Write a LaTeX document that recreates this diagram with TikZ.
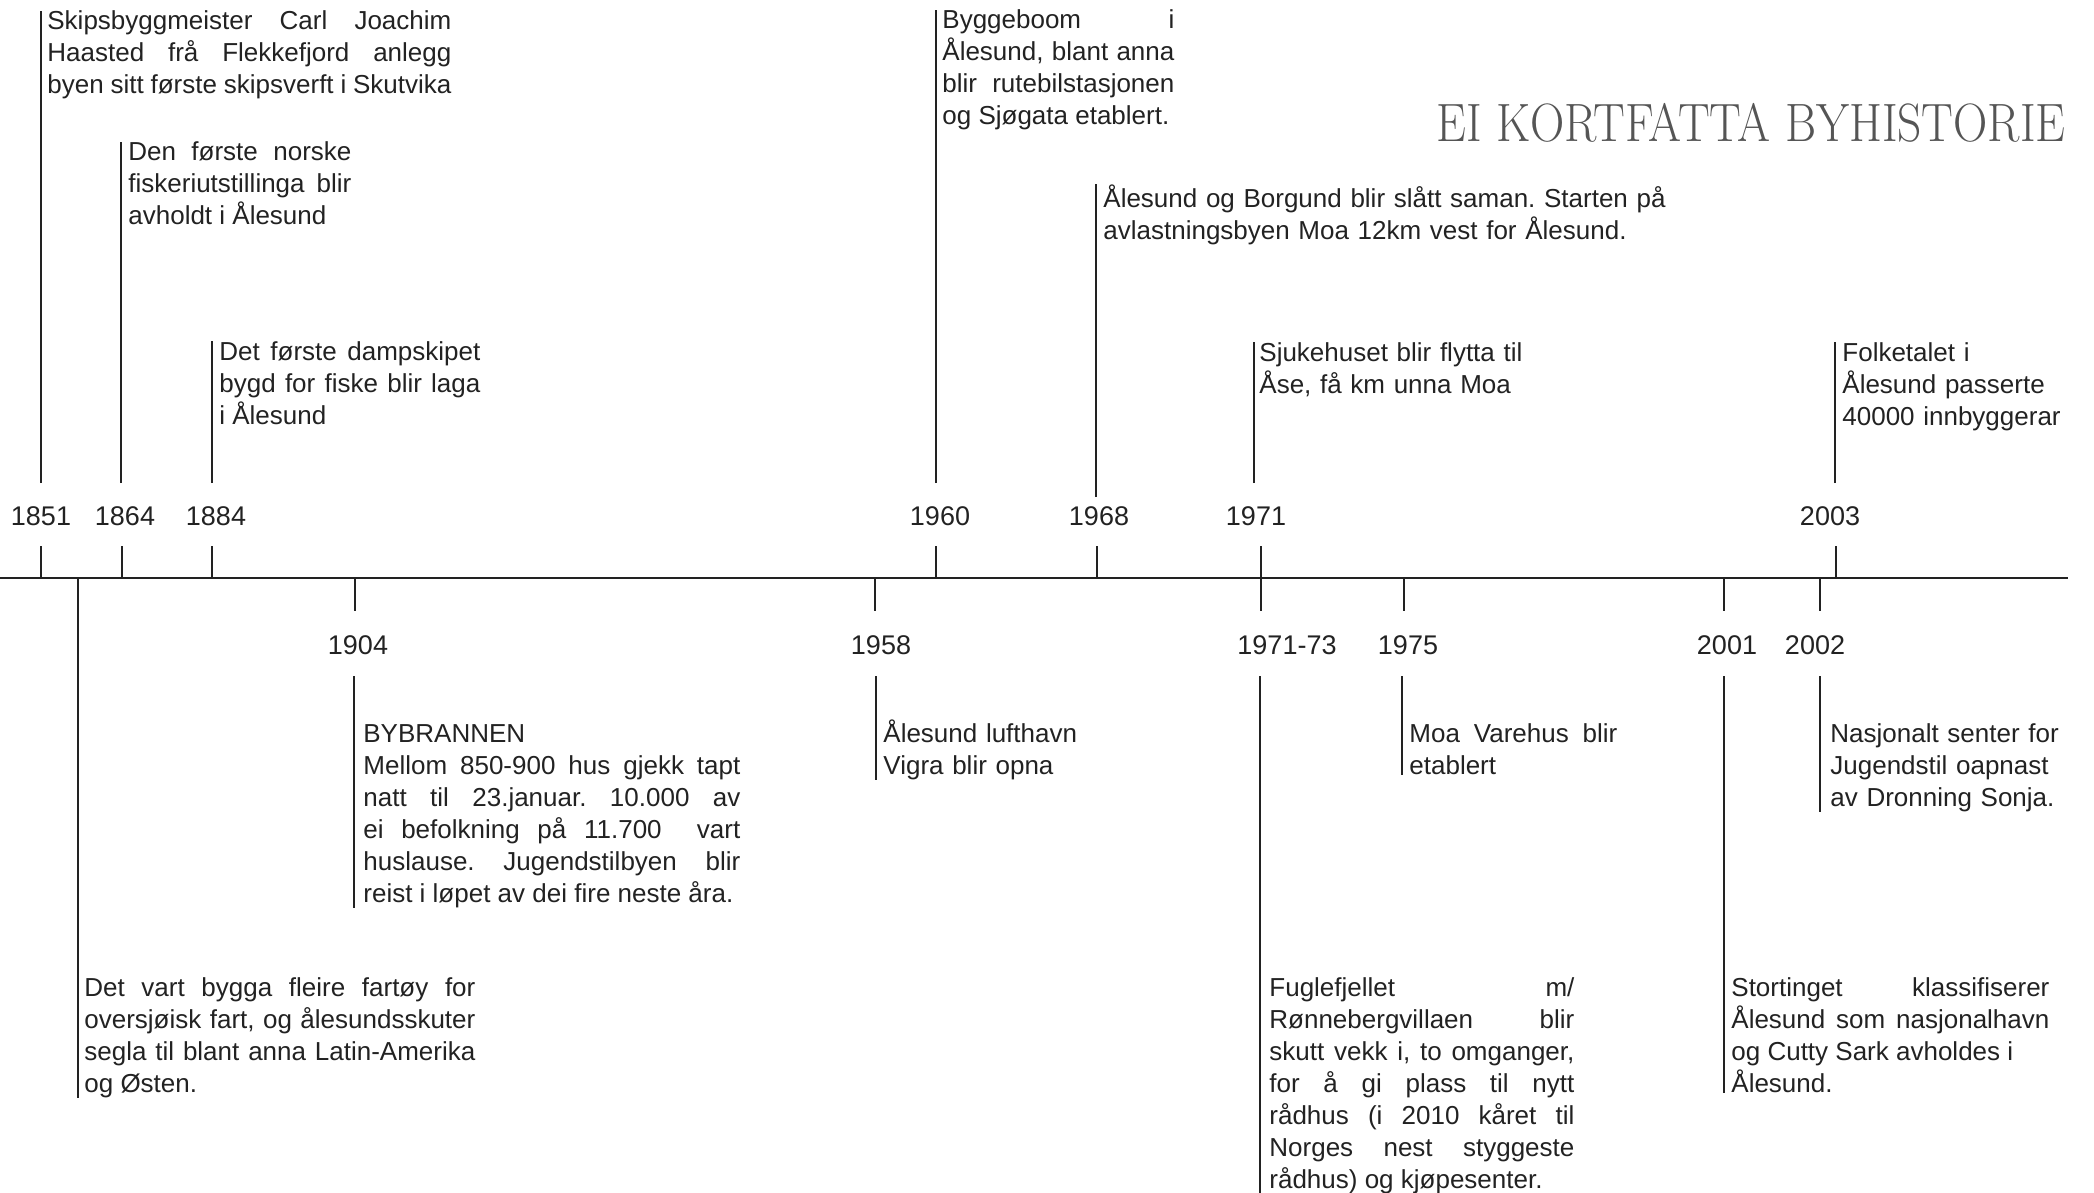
\documentclass[tikz,border=0pt]{standalone}
\usepackage{fontspec}
\setsansfont{Liberation Sans}
\usepackage{graphicx}

\definecolor{ink}{HTML}{222222}
\definecolor{titlegray}{HTML}{555555}

\begin{document}
\frenchspacing
\begin{tikzpicture}[x=0.5pt,y=-0.5pt,
    axis/.style={line width=1.35pt, ink},
    tick/.style={line width=1.15pt, ink},
    year/.style={inner sep=0pt, text=ink, font=\sffamily\fontsize{13.5pt}{16pt}\selectfont},
    jtext/.style={anchor=base west, inner sep=0pt, align=justify, text=ink, font=\sffamily\fontsize{13pt}{16pt}\selectfont},
    ltext/.style={jtext, align=left},
    title/.style={anchor=base east, inner sep=0pt, text=titlegray, font=\rmfamily\fontsize{27pt}{30pt}\selectfont}]
  \useasboundingbox (0,0) rectangle (2094,1193);

  % title
  \node[title] (title) at (2066,141) {\scalebox{0.88}[1]{EI KORTFATTA BYHISTORIE}};

  % draw axis
  \coordinate (ax0) at (0,578);
  \coordinate (ax1) at (2068,578);
  \draw[axis] (ax0) -- (ax1);

  % events above the axis
  \node[jtext, text width=202pt] (t1851) at (47,30) {Skipsbyggmeister Carl Joachim\linebreak Haasted frå Flekkefjord anlegg\linebreak byen sitt første skipsverft i Skutvika};
  \node[jtext, text width=111.5pt] (t1864) at (128,161) {Den første norske\linebreak fiskeriutstillinga blir\linebreak avholdt i Ålesund};
  \node[jtext, text width=130.5pt] (t1884) at (219,360) {Det første dampskipet\linebreak bygd for fiske blir laga\linebreak i Ålesund};
  \node[jtext, text width=116pt] (t1960) at (942,29) {Byggeboom i\linebreak Ålesund, blant anna\linebreak blir rutebilstasjonen\linebreak og Sjøgata etablert.};
  \node[ltext, text width=310pt] (t1968) at (1103,207) {Ålesund og Borgund blir slått saman. Starten på\\ avlastningsbyen Moa 12km vest for Ålesund.};
  \node[ltext, text width=150pt] (t1971) at (1259,361) {Sjukehuset blir flytta til\\ Åse, få km unna Moa};
  \node[ltext, text width=120pt] (t2003) at (1842,361) {Folketalet i\\ Ålesund passerte\\ 40000 innbyggerar};

  % events below the axis
  \node[jtext, text width=195.5pt] (tship) at (84,996) {Det vart bygga fleire fartøy for\linebreak oversjøisk fart, og ålesundsskuter\linebreak segla til blant anna Latin-Amerika\linebreak og Østen.};
  \node[jtext, text width=188.5pt] (t1904) at (363,742) {BYBRANNEN\\ Mellom 850-900 hus gjekk tapt\linebreak natt til 23.januar. 10.000 av\linebreak ei befolkning på 11.700\ \ vart\linebreak huslause. Jugendstilbyen blir\linebreak reist i løpet av dei fire neste åra.};
  \node[ltext, text width=100pt] (t1958) at (883,742) {Ålesund lufthavn\\ Vigra blir opna};
  \node[jtext, text width=152.5pt] (t1971b) at (1269,996) {Fuglefjellet m/\linebreak Rønnebergvillaen blir\linebreak skutt vekk i, to omganger,\linebreak for å gi plass til nytt\linebreak rådhus (i 2010 kåret til\linebreak Norges nest styggeste\linebreak rådhus) og kjøpesenter.};
  \node[jtext, text width=104pt] (t1975) at (1409,742) {Moa Varehus blir\linebreak etablert};
  \node[jtext, text width=159pt] (t2001) at (1731,996) {Stortinget klassifiserer\linebreak Ålesund som nasjonalhavn\linebreak og Cutty Sark avholdes i\\ Ålesund.};
  \node[ltext, text width=120pt] (t2002) at (1830,742) {Nasjonalt senter for\\ Jugendstil oapnast\\ av Dronning Sonja.};

  % years above: tick, label, stem up to the text
  \foreach \n/\tx/\lx/\sx/\sy in {1851/41/41/41/483, 1864/122/125/121/483,
      1884/212/216/212/483, 1960/936/940/936/483, 1968/1097/1099/1096/497,
      1971/1261/1256/1254/483, 2003/1836/1830/1835/483}{
    \coordinate (a\n) at (\tx,578);
    \coordinate (s\n) at (\sx,\sy);
    \node[year] (y\n) at (\lx,516) {\n};
    \draw[tick] (a\n) -- ++(0,-32);
    \draw[tick] (s\n) -- (s\n |- t\n.north);
  }

  % years below: tick, label, stem down to the text
  \foreach \n/\yr/\tx/\lx/\sx in {1904/1904/355/358/354, 1958/1958/875/881/876,
      1971b/1971-73/1261/1287/1260, 1975/1975/1404/1408/1402,
      2001/2001/1724/1727/1724, 2002/2002/1820/1815/1820}{
    \coordinate (a\n) at (\tx,578);
    \coordinate (s\n) at (\sx,676);
    \node[year] (y\n) at (\lx,645) {\yr};
    \draw[tick] (a\n) -- ++(0,33);
    \draw[tick] (s\n) -- (s\n |- t\n.south);
  }

  % ships line without a year
  \coordinate (aship) at (78,578);
  \draw[tick] (aship) -- (aship |- tship.south);
\end{tikzpicture}
\end{document}
